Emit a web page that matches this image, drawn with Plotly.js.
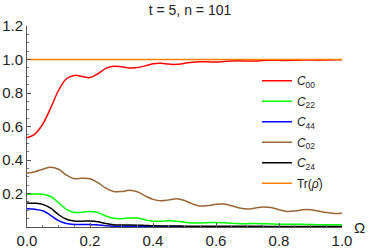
<!DOCTYPE html>
<html><head><meta charset="utf-8">
<script src="https://cdn.plot.ly/plotly-3.0.1.min.js"></script>
<style>html,body{margin:0;padding:0;background:#fff}#chart{width:380px;height:249px}</style>
</head><body><div id="chart"></div>
<script>
const omega = [0,0.025,0.05,0.075,0.1,0.125,0.15,0.175,0.2,0.225,0.25,0.275,0.3,0.325,0.35,0.375,0.4,0.425,0.45,0.475,0.5,0.525,0.55,0.575,0.6,0.625,0.65,0.675,0.7,0.725,0.75,0.775,0.8,0.825,0.85,0.875,0.9,0.925,0.95,0.975,1.0];
const c00 = [0.533,0.555,0.615,0.71,0.815,0.885,0.905,0.898,0.892,0.915,0.947,0.96,0.956,0.95,0.952,0.962,0.975,0.977,0.973,0.971,0.977,0.984,0.987,0.986,0.985,0.988,0.991,0.992,0.991,0.991,0.994,0.995,0.995,0.994,0.995,0.997,0.997,0.996,0.997,0.998,0.998];
const c22 = [0.196,0.197,0.196,0.182,0.145,0.105,0.087,0.088,0.093,0.087,0.066,0.052,0.05,0.054,0.053,0.043,0.035,0.034,0.037,0.035,0.028,0.024,0.024,0.026,0.027,0.025,0.022,0.02,0.02,0.021,0.02,0.018,0.016,0.016,0.017,0.016,0.015,0.014,0.014,0.014,0.013];
const c44 = [0.109,0.106,0.097,0.07,0.038,0.021,0.015,0.015,0.015,0.012,0.008,0.005,0.004,0.004,0.004,0.003,0.003,0.003,0.003,0.003,0.002,0.002,0.002,0.002,0.002,0.002,0.002,0.002,0.002,0.002,0.002,0.002,0.002,0.002,0.002,0.002,0.002,0.002,0.002,0.002,0.002];
const c02 = [0.322,0.33,0.345,0.357,0.345,0.31,0.288,0.291,0.288,0.265,0.232,0.212,0.212,0.219,0.21,0.186,0.165,0.157,0.162,0.168,0.158,0.138,0.125,0.128,0.136,0.137,0.127,0.113,0.107,0.113,0.12,0.116,0.103,0.093,0.095,0.103,0.103,0.095,0.086,0.081,0.082];
const c24 = [0.144,0.142,0.135,0.112,0.074,0.046,0.036,0.035,0.036,0.031,0.021,0.014,0.012,0.012,0.011,0.009,0.007,0.006,0.006,0.006,0.005,0.005,0.005,0.005,0.004,0.004,0.004,0.004,0.004,0.004,0.004,0.003,0.003,0.003,0.003,0.003,0.003,0.003,0.003,0.003,0.003];
const trace = [1,1,1,1,1,1,1,1,1,1,1,1,1,1,1,1,1,1,1,1,1,1,1,1,1,1,1,1,1,1,1,1,1,1,1,1,1,1,1,1,1];

const names = ['<i>C</i><sub>00</sub>','<i>C</i><sub>22</sub>','<i>C</i><sub>44</sub>','<i>C</i><sub>02</sub>','<i>C</i><sub>24</sub>','Tr(<i>ρ̂</i>)'];
const series = [c00,c22,c44,c02,c24,trace];
const colors = ['#ff0000','#00ff00','#0000ff','#996633','#000000','#ff8000'];

const data = series.map((s,i)=>({
  x: omega, y: s, type:'scatter', mode:'lines', name: names[i],
  legendgroup: 'g'+i,
  line:{color:colors[i], width:1.5, shape:'spline', smoothing:1}
}));

const tickFont = {family:'Liberation Sans, Arial, sans-serif', size:15, color:'#222'};
const layout = {
  width:380, height:249,
  margin:{l:27, r:38, t:26, b:22, pad:0},
  paper_bgcolor:'#fff', plot_bgcolor:'#fff',
  font:{family:'Liberation Sans, Arial, sans-serif', color:'#222'},
  title:{text:'t = 5, n = 101', font:{size:14, color:'#222'}, x:0.5, xanchor:'center', y:0.98, yanchor:'top'},
  showlegend:true,
  legend:{x:0.73, y:0.80, xanchor:'left', yanchor:'top', bgcolor:'rgba(0,0,0,0)', font:{size:12, color:'#222'}, traceorder:'grouped', tracegroupgap:1.5},
  xaxis:{range:[0,1], tickvals:[0,0.2,0.4,0.6,0.8,1.0], ticktext:['0.0','0.2','0.4','0.6','0.8','1.0'],
    ticks:'inside', ticklen:4, tickwidth:1, tickcolor:'#555', showgrid:false, zeroline:false,
    showline:true, linecolor:'#555', linewidth:1, tickfont:tickFont,
    minor:{dtick:0.05, ticks:'inside', ticklen:2, tickcolor:'#777', showgrid:false}},
  yaxis:{range:[0,1.2], tickvals:[0.2,0.4,0.6,0.8,1.0,1.2], ticktext:['0.2','0.4','0.6','0.8','1.0','1.2'],
    ticks:'inside', ticklen:4, tickwidth:1, tickcolor:'#555', showgrid:false, zeroline:false,
    showline:true, linecolor:'#555', linewidth:1, tickfont:tickFont,
    minor:{dtick:0.05, ticks:'inside', ticklen:2, tickcolor:'#777', showgrid:false}},
  annotations:[{text:'Ω', xref:'paper', yref:'paper', x:1.055, y:0, xanchor:'center', yanchor:'middle', showarrow:false, font:{size:15, color:'#222'}}]
};
Plotly.newPlot('chart', data, layout, {displayModeBar:false, staticPlot:true});
</script></body></html>
